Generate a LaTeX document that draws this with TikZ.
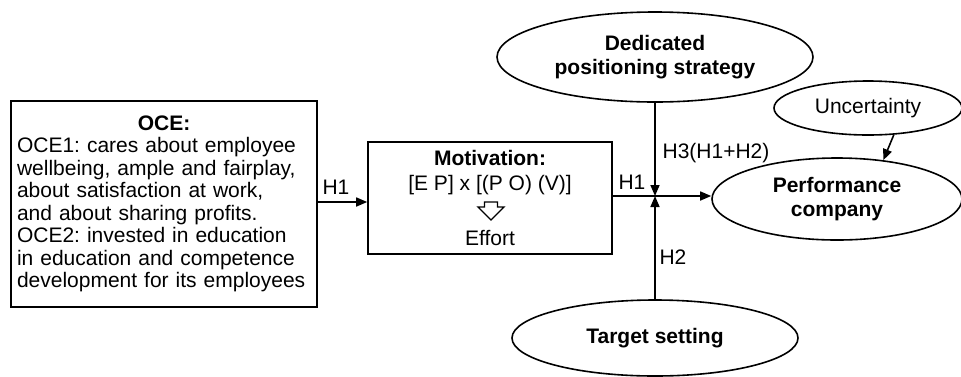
\documentclass[tikz,border=0pt]{standalone}
\usepackage{fontspec}
\setmainfont{Liberation Sans}
\usetikzlibrary{shapes.geometric,arrows.meta}
\frenchspacing
\begin{document}
\begin{tikzpicture}[x=1pt,y=-1pt,
  every node/.style={font=\fontsize{21}{22.5}\selectfont, inner sep=0pt},
  line/.style={line width=1.6pt},
  arr/.style={line width=1.6pt, -{Triangle[length=11pt,width=9pt]}},
  boxnode/.style={draw, line width=1.6pt, rectangle},
  ell/.style={draw, line width=1.6pt, ellipse, align=center, font=\fontsize{21}{24}\selectfont\bfseries},
  lbl/.style={font=\fontsize{21}{22.5}\selectfont}]
\useasboundingbox (0,0) rectangle (961,376);
% OCE box
\node[boxnode, minimum width=306pt, minimum height=206pt, text width=294pt, align=left] (oce) at (164,204)
  {\makebox[\linewidth][c]{\textbf{OCE:}}\\
   OCE1: cares about employee\\
   wellbeing, ample and fairplay,\\
   about satisfaction at work,\\
   and about sharing profits.\\
   OCE2: invested in education\\
   in education and competence\\
   development for its employees};
% Motivation box
\node[boxnode, minimum width=244pt, minimum height=112pt] (mot) at (490,198) {};
\node[font=\fontsize{21}{22.5}\selectfont\bfseries] (mott) at (490,158) {Motivation:};
\node (mote) at (490,185) {[E P] x [(P O) (V)]};
\node (moteff) at (490,238) {Effort};
\coordinate (ar) at (491,202);
\draw[line width=1.3pt, line join=miter, shift={(ar)}] (-6.5,0) -- (6.5,0) -- (6.5,5) -- (13,5) -- (0,18) -- (-13,5) -- (-6.5,5) -- cycle;
% ellipses
\node[ell, minimum width=316pt, minimum height=90pt] (dps) at (655,57) {Dedicated\\positioning strategy};
\node[ell, font=\fontsize{21}{22.5}\selectfont, minimum width=188pt, minimum height=54pt] (unc) at (868,108) {Uncertainty};
\node[ell, minimum width=250pt, minimum height=82pt] (perf) at (837,199) {Performance\\company};
\node[ell, minimum width=286pt, minimum height=76pt] (ts) at (655,338) {Target setting};
% connectors
\draw[arr] ([yshift=2pt]oce.east) -- ([yshift=2pt]oce.east -| mot.west);
\coordinate (j) at (655,196);
\draw[arr] (mot.east |- j) -- (j -| perf.west);
\draw[arr] (dps.south) -- (j);
\draw[arr] (ts.north) -- (j);
\draw[arr] (unc.314) -- (perf.40);
% labels
\node[lbl] (l1) at (336,187) {H1};
\node[lbl] (l2) at (632,182) {H1};
\node[lbl] (l3) at (716,153) {H3(H1+H2)};
\node[lbl] (l4) at (673,257) {H2};
\end{tikzpicture}
\end{document}
